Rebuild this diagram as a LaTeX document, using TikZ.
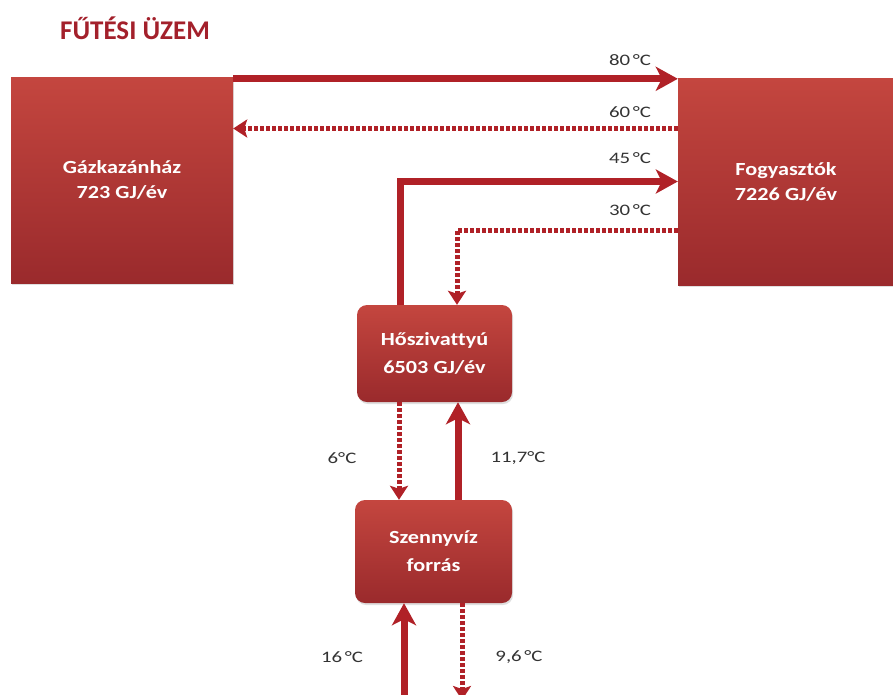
\documentclass[tikz,border=0pt]{standalone}
\usepackage{fontspec}
\setmainfont{Carlito}
\newfontfamily\unitfont[FakeStretch=1.2,Ligatures=NoCommon]{Carlito}
\newfontfamily\tempfont[FakeStretch=1.3]{Carlito}
\usetikzlibrary{arrows.meta,shadows}

\definecolor{boxtop}{HTML}{C4463F}
\definecolor{boxbot}{HTML}{9A2A2C}
\definecolor{pipe}{HTML}{B02127}
\definecolor{titlered}{HTML}{A3202B}

\begin{document}
\begin{tikzpicture}
[
	x=1pt,y=-1pt,
	unit/.style={rectangle,draw=none,top color=boxtop,bottom color=boxbot,text=white,
		font=\unitfont\fontsize{18.5}{25}\selectfont\bfseries,align=center,inner sep=0pt,
		drop shadow={shadow xshift=1pt,shadow yshift=-2pt,opacity=0.25}},
	pump/.style={unit,rounded corners=10pt,font=\unitfont\fontsize{18.5}{28}\selectfont\bfseries},
	hot/.style={draw=pipe,line width=7pt,-{Stealth[length=22pt,width=24pt,inset=6pt]}},
	cold/.style={draw=pipe,line width=5pt,dash pattern=on 4pt off 2pt,
		-{Stealth[length=14pt,width=18pt,inset=3pt]}},
	temp/.style={font=\tempfont\fontsize{16}{16}\selectfont,text=black!80}
]

	\useasboundingbox (0,0) rectangle (893,694);

	% title
	\node[font=\fontsize{27}{27}\selectfont\bfseries,text=titlered] (title) at (135,28) {FŰTÉSI ÜZEM};

	% boxes
	\node[unit,minimum width=222pt,minimum height=206pt] (gaz) at (122,180) {Gázkazánház\\723 GJ/év};
	\node[unit,minimum width=216pt,minimum height=207pt] (fogy) at (786,181.5) {Fogyasztók\\7226 GJ/év};
	\node[pump,minimum width=155pt,minimum height=97pt] (hoszi) at (434.5,353.5) {Hőszivattyú\\6503 GJ/év};
	\node[pump,minimum width=157pt,minimum height=103pt] (szenny) at (433.5,551.5) {Szennyvíz\\forrás};

	\coordinate (inlet) at (404,700);
	\coordinate (outlet) at (462,700);

	% district loop
	\draw[hot] ([yshift=-2pt]gaz.north east) -- ([yshift=-1pt]fogy.north west);
	\draw[cold] ([yshift=53pt]fogy.west) -- ([yshift=53pt]fogy.west -| gaz.east);
	\draw[hot] ([xshift=-34.5pt]hoszi.north) |- (fogy.west);
	\draw[cold] ([yshift=-48.5pt]fogy.west) -| ([xshift=22.5pt]hoszi.north);

	% heat pump loop
	\draw[cold] ([xshift=-35.5pt]hoszi.south) -- ([xshift=-35.5pt]hoszi.south |- szenny.north);
	\draw[hot] ([xshift=24.5pt]szenny.north) -- ([xshift=24.5pt]szenny.north |- hoszi.south);

	% sewage
	\draw[hot] (inlet) -- (inlet |- szenny.south);
	\draw[cold] (outlet |- szenny.south) -- (outlet);

	% temperatures
	\node[temp] (t80) at (630,60) {80\,°C};
	\node[temp] (t60) at (630,112) {60\,°C};
	\node[temp] (t45) at (630,158) {45\,°C};
	\node[temp] (t30) at (630,210) {30\,°C};
	\node[temp] (t6) at (342,458) {6°C};
	\node[temp] (t117) at (518,458) {11,7°C};
	\node[temp] (t16) at (342,657) {16\,°C};
	\node[temp] (t96) at (519,657) {9,6\,°C};

\end{tikzpicture}
\end{document}
